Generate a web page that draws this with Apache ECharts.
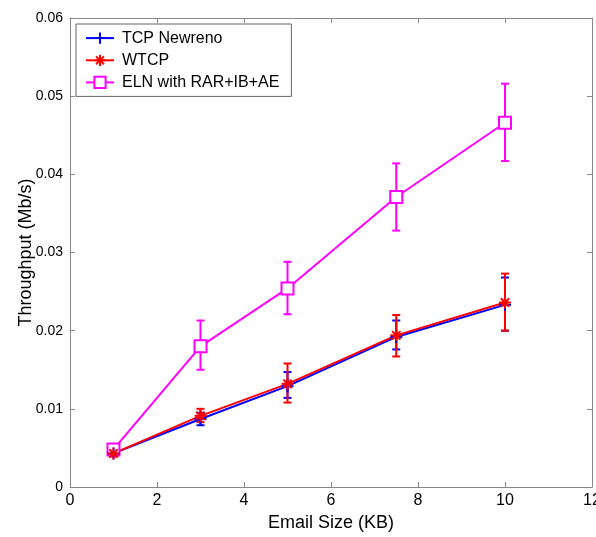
<!DOCTYPE html>
<html>
<head>
<meta charset="utf-8">
<script src="https://cdn.jsdelivr.net/npm/echarts@6/dist/echarts.min.js"></script>
<style>html,body{margin:0;padding:0;background:#fff;}#c{width:596px;height:537px;}</style>
</head>
<body>
<div id="c"></div>
<script>
const xs = [1, 3, 5, 7.5, 10];
const xTicks = [0, 2, 4, 6, 8, 10, 12];
const yTicks = [0, 0.01, 0.02, 0.03, 0.04, 0.05, 0.06];

const tcpY    = [0.0043, 0.0087, 0.0129, 0.0192, 0.0233];
const tcpLow  = [0.0040, 0.0079, 0.0114, 0.0176, 0.0200];
const tcpHigh = [0.0047, 0.0095, 0.0147, 0.0213, 0.0268];

const wtcpY    = [0.0043, 0.0091, 0.0132, 0.0194, 0.0236];
const wtcpLow  = [0.0039, 0.0083, 0.0108, 0.0167, 0.0200];
const wtcpHigh = [0.0047, 0.0100, 0.0158, 0.0220, 0.0273];

const elnY    = [0.0048, 0.0180, 0.0254, 0.0371, 0.0466];
const elnLow  = [0.0044, 0.0150, 0.0221, 0.0328, 0.0417];
const elnHigh = [0.0052, 0.0213, 0.0288, 0.0414, 0.0516];

const names = ['TCP Newreno', 'WTCP', 'ELN with RAR+IB+AE'];
const colors = ['#0000ff', '#ff0000', '#ff00ff'];

const FONT = "'Liberation Sans', Arial, sans-serif";
const plusPath = 'path://M0,-1L0,1M-1,0L1,0';
const starPath = 'path://M0,-1L0,1M-1,0L1,0M-0.7,-0.7L0.7,0.7M-0.7,0.7L0.7,-0.7';

function pts(y) { return xs.map((x, i) => [x, y[i]]); }
function errs(lo, hi) { return xs.map((x, i) => [x, lo[i], hi[i]]); }

function errRender(color) {
  return function (params, api) {
    const x = api.value(0), lo = api.value(1), hi = api.value(2);
    const a = api.coord([x, lo]), b = api.coord([x, hi]);
    const w = 4;
    const st = { stroke: color, lineWidth: 2 };
    return {
      type: 'group',
      children: [
        { type: 'line', shape: { x1: a[0], y1: a[1], x2: b[0], y2: b[1] }, style: st },
        { type: 'line', shape: { x1: a[0] - w, y1: a[1], x2: a[0] + w, y2: a[1] }, style: st },
        { type: 'line', shape: { x1: b[0] - w, y1: b[1], x2: b[0] + w, y2: b[1] }, style: st }
      ]
    };
  };
}

function errSeries(lo, hi, color) {
  return {
    type: 'custom', renderItem: errRender(color), data: errs(lo, hi),
    encode: { x: 0, y: [1, 2] }, silent: true, z: 2
  };
}

function lineSeries(name, y, color, symbol, size, isPath) {
  return {
    name: name, type: 'line', data: pts(y), symbol: symbol, symbolSize: size,
    showAllSymbol: true, z: 3,
    lineStyle: { color: color, width: 2 },
    itemStyle: isPath ? { color: 'none', borderColor: color, borderWidth: 2 } : { color: color, borderColor: color, borderWidth: 1.6 },
    emphasis: { disabled: true }
  };
}

const axisLineStyle = { color: '#888', width: 1 };
const baseX = {
  type: 'value', min: xTicks[0], max: xTicks[xTicks.length - 1], interval: 2,
  axisLine: { show: true, onZero: false, lineStyle: axisLineStyle },
  axisTick: { show: true, inside: true, length: 5, lineStyle: axisLineStyle },
  splitLine: { show: false }
};
const baseY = {
  type: 'value', min: yTicks[0], max: yTicks[yTicks.length - 1], interval: 0.01,
  axisLine: { show: true, onZero: false, lineStyle: axisLineStyle },
  axisTick: { show: true, inside: true, length: 5, lineStyle: axisLineStyle },
  splitLine: { show: false }
};

const chart = echarts.init(document.getElementById('c'));
chart.setOption({
  animation: false,
  backgroundColor: '#fff',
  grid: { left: 70, right: 4, top: 18, bottom: 50, containLabel: false, outerBoundsMode: 'none' },
  legend: {
    data: names, orient: 'vertical', left: 76, top: 24,
    itemWidth: 28, itemHeight: 14, itemGap: 6,
    padding: [6, 12, 6, 9],
    backgroundColor: '#fff', borderColor: '#666', borderWidth: 1,
    textStyle: { fontFamily: FONT, fontSize: 16, color: '#000', padding: [0, 0, 0, 3] }
  },
  xAxis: [
    Object.assign({}, baseX, {
      position: 'bottom',
      name: 'Email Size (KB)', nameLocation: 'middle', nameGap: 27, nameMoveOverlap: false,
      nameTextStyle: { fontFamily: FONT, fontSize: 18, color: '#000' },
      axisLabel: { fontFamily: FONT, fontSize: 16, color: '#000', margin: 6 }
    }),
    Object.assign({}, baseX, { position: 'top', axisLabel: { show: false } })
  ],
  yAxis: [
    Object.assign({}, baseY, {
      position: 'left',
      name: 'Throughput (Mb/s)', nameLocation: 'middle', nameGap: 35, nameRotate: 90, nameMoveOverlap: false,
      nameTextStyle: { fontFamily: FONT, fontSize: 18, color: '#000' },
      axisLabel: {
        fontFamily: FONT, fontSize: 14, color: '#000', margin: 7,
        formatter: v => (v === 0 ? '0' : v.toFixed(2))
      }
    }),
    Object.assign({}, baseY, { position: 'right', axisLabel: { show: false } })
  ],
  series: [
    errSeries(elnLow, elnHigh, colors[2]),
    lineSeries(names[2], elnY, colors[2], 'emptyRect', 12, false),
    errSeries(tcpLow, tcpHigh, colors[0]),
    lineSeries(names[0], tcpY, colors[0], plusPath, 12, true),
    errSeries(wtcpLow, wtcpHigh, colors[1]),
    lineSeries(names[1], wtcpY, colors[1], starPath, 12, true)
  ]
});
</script>
</body>
</html>
